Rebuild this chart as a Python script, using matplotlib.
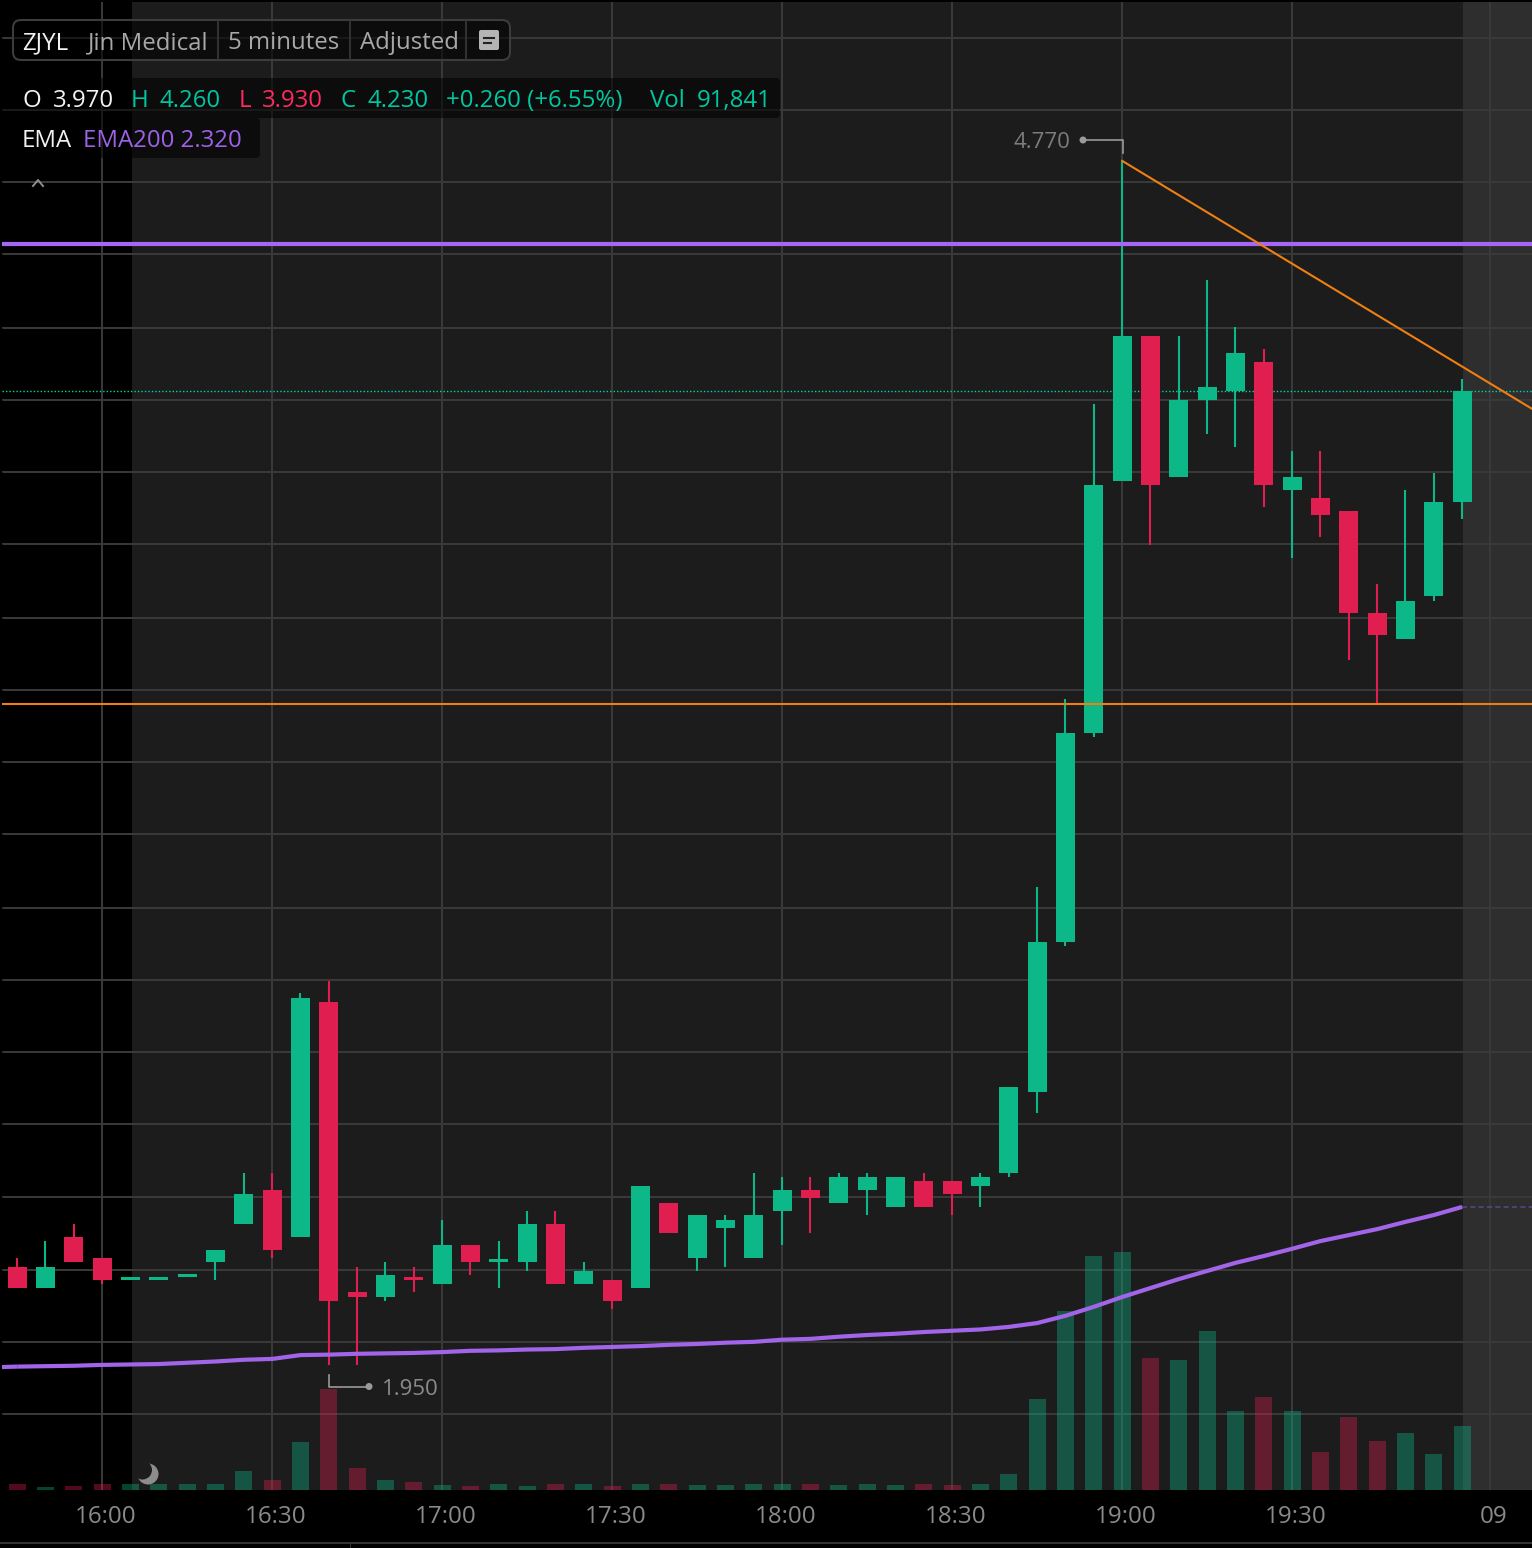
import matplotlib
matplotlib.use("Agg")
import matplotlib.pyplot as plt
from matplotlib.patches import FancyBboxPatch, Circle, Rectangle
from matplotlib.transforms import ScaledTranslation

plt.rcParams['font.family'] = ['Open Sans', 'DejaVu Sans']

# bar index 0 is the 16:00 bar, one bar is 5 minutes
bar_index = list(range(-3, 49))
opens = [2.18, 2.13, 2.25, 2.20, 2.15, 2.15, 2.155, 2.19, 2.28, 2.36, 2.25, 2.80, 2.12, 2.11, 2.15, 2.14, 2.23, 2.19,
         2.19, 2.28, 2.14, 2.15, 2.13, 2.33, 2.20, 2.27, 2.20, 2.31, 2.36, 2.33, 2.36, 2.32, 2.38, 2.38, 2.37, 2.40,
         2.59, 2.94, 3.43, 4.02, 4.36, 4.03, 4.21, 4.23, 4.30, 4.00, 3.98, 3.95, 3.71, 3.65, 3.75, 3.97]
highs = [2.20, 2.24, 2.28, 2.20, 2.15, 2.15, 2.155, 2.22, 2.40, 2.40, 2.82, 2.85, 2.18, 2.19, 2.18, 2.29, 2.23, 2.24,
         2.31, 2.31, 2.19, 2.15, 2.37, 2.33, 2.30, 2.30, 2.40, 2.39, 2.39, 2.40, 2.40, 2.39, 2.40, 2.38, 2.40, 2.60,
         3.07, 3.51, 4.20, 4.77, 4.36, 4.36, 4.49, 4.38, 4.33, 4.09, 4.09, 3.95, 3.78, 4.00, 4.04, 4.26]
lows = [2.13, 2.13, 2.19, 2.14, 2.15, 2.15, 2.155, 2.15, 2.28, 2.20, 2.25, 1.95, 1.95, 2.10, 2.12, 2.14, 2.16, 2.13,
        2.17, 2.14, 2.14, 2.08, 2.13, 2.26, 2.17, 2.18, 2.20, 2.23, 2.26, 2.33, 2.30, 2.32, 2.32, 2.30, 2.32, 2.39,
        2.54, 2.93, 3.42, 4.02, 3.87, 4.03, 4.13, 4.10, 3.96, 3.84, 3.89, 3.60, 3.50, 3.65, 3.74, 3.93]
closes = [2.13, 2.18, 2.19, 2.15, 2.15, 2.15, 2.155, 2.22, 2.35, 2.22, 2.81, 2.10, 2.11, 2.16, 2.15, 2.23, 2.19, 2.19,
          2.28, 2.14, 2.17, 2.10, 2.37, 2.26, 2.30, 2.29, 2.30, 2.36, 2.34, 2.39, 2.39, 2.39, 2.32, 2.35, 2.39, 2.60,
          2.94, 3.43, 4.01, 4.36, 4.01, 4.21, 4.24, 4.32, 4.01, 4.03, 3.94, 3.71, 3.66, 3.74, 3.97, 4.23]
volumes = [8600, 4300, 5700, 8600, 8600, 8600, 8600, 8600, 27300, 14400, 68900, 144900, 31600, 14400, 11500, 7200,
           5700, 8600, 5700, 8600, 8600, 5700, 8600, 8600, 7200, 7200, 8600, 8600, 8600, 7200, 8600, 7200, 8600,
           7200, 8600, 23000, 130600, 256900, 335800, 341500, 189400, 186600, 228200, 113400, 133500, 113400,
           54500, 104800, 70300, 81800, 51700, 91841]
ema = [1.946, 1.947, 1.948, 1.950, 1.951, 1.952, 1.955, 1.958, 1.962, 1.964, 1.973, 1.974, 1.976, 1.977, 1.978, 1.980,
       1.983, 1.984, 1.986, 1.987, 1.990, 1.992, 1.994, 1.997, 1.999, 2.002, 2.004, 2.009, 2.011, 2.016, 2.020, 2.023,
       2.027, 2.030, 2.033, 2.039, 2.048, 2.065, 2.086, 2.109, 2.130, 2.151, 2.170, 2.189, 2.205, 2.222, 2.240, 2.254,
       2.268, 2.285, 2.301, 2.320]

grid_prices = [5.058, 4.889, 4.720, 4.552, 4.379, 4.210, 4.041, 3.873, 3.699, 3.531, 3.362, 3.194, 3.020, 2.852,
               2.683, 2.514, 2.343, 2.172, 2.004, 1.835]
time_ticks = [0, 6, 12, 18, 24, 30, 36, 42, 49]
time_labels = ["16:00", "16:30", "17:00", "17:30", "18:00", "18:30", "19:00", "19:30", "09"]

resistance = 4.575
support = 3.498
last_close = 4.23
trend_x = [36, 50.47]
trend_y = [4.77, 4.189]

W, H = 1532, 1548
GREEN = "#0cb888"
RED = "#e01f50"
PURPLE = "#a566f5"
ORANGE = "#f07f13"
GRID = "#3a3a3a"
BAR_PX = 28.33
XLIM = (-3.535, 50.465)
YLIM = (1.657, 5.142)
VOL_TOP = 1488 * 1435

fig = plt.figure(figsize=(W / 100, H / 100), dpi=100, facecolor="black")
rect = [2 / W, 1 - 1490 / H, 1530 / W, 1488 / H]

# back: sessions, grid and time labels
ax = fig.add_axes(rect, facecolor="black")
ax.set_xlim(*XLIM)
ax.set_ylim(*YLIM)
ax.axvspan(1.06, 48.04, color="#1c1c1c", lw=0, zorder=0)
ax.axvspan(48.04, XLIM[1], color="#2e2e2e", lw=0, zorder=0)
ax.set_yticks(grid_prices)
ax.set_xticks(time_ticks, time_labels)
ax.grid(True, color=GRID, lw=1.4, zorder=1)
ax.set_axisbelow(True)
ax.tick_params(axis="y", left=False, labelleft=False)
ax.tick_params(axis="x", length=0, pad=10.5, labelsize=17.4, labelcolor="#8a8a8a")
for lab in ax.get_xticklabels():
    lab.set_transform(lab.get_transform() + ScaledTranslation(3.5 / 100, 0, fig.dpi_scale_trans))
for s in ax.spines.values():
    s.set_visible(False)

# volume
ax_vol = ax.twinx()
ax_vol.set_ylim(0, VOL_TOP)
ax_vol.axis("off")
vol_colors = [GREEN if c > o or (c == o and i != 11) else RED
              for i, o, c in zip(bar_index, opens, closes)]
ax_vol.bar(bar_index, volumes, width=17 / BAR_PX, color=vol_colors, alpha=0.37, lw=0)

# candles and lines
ax_c = ax.twinx()
ax_c.set_ylim(*YLIM)
ax_c.axis("off")
min_body = 0.007
for i, o, h, l, c, col in zip(bar_index, opens, highs, lows, closes, vol_colors):
    ax_c.vlines(i, l, h, color=col, lw=1.5, zorder=2)
    ax_c.bar(i, max(abs(c - o), min_body), bottom=min(o, c), width=19 / BAR_PX, color=col, lw=0, zorder=3)

ax_c.axhline(last_close, color="#00d8a8", lw=1, ls=(0, (1, 1.5)), zorder=2)
ax_c.plot(bar_index, ema, color="#a264e8", lw=3, zorder=5, solid_capstyle="butt")
ax_c.plot([XLIM[0], -3], [1.945, ema[0]], color="#a264e8", lw=3, zorder=5, solid_capstyle="butt")
ax_c.plot([48, XLIM[1]], [ema[-1], ema[-1]], color="#5a4480", lw=1.2, ls=(0, (3, 2)), zorder=4)
ax_c.axhline(resistance, color=PURPLE, lw=3, zorder=6)
ax_c.axhline(support, color=ORANGE, lw=1.5, zorder=6)
ax_c.plot(trend_x, trend_y, color=ORANGE, lw=1.5, zorder=7)

# overlay in pixels for the legend boxes and labels
ov = fig.add_axes([0, 0, 1, 1], facecolor="none", zorder=10)
ov.set_xlim(0, W)
ov.set_ylim(H, 0)
ov.axis("off")
ov.add_patch(Rectangle((0, 1542), W, 2, color="#333333", lw=0))
ov.add_patch(Rectangle((349.5, 1542), 1.5, 6, color="#333333", lw=0))


def box(x0, y0, x1, y1, face, edge="none", pad=4):
    ov.add_patch(FancyBboxPatch((x0 + pad, y0 + pad), x1 - x0 - 2 * pad, y1 - y0 - 2 * pad,
                                boxstyle="round,pad=%d" % pad, fc=face, ec=edge, lw=1.5))


def label(x, y, s, color, size=17.3, **kw):
    ov.text(x, y, s, color=color, fontsize=size, va="baseline", **kw)


SHADE = (0, 0, 0, 0.55)
box(13, 20, 510, 60, SHADE, "#3c3c3c", pad=8)
for x in [218, 350, 466]:
    ov.plot([x, x], [21, 59], color="#333333", lw=1.4)
box(479, 30, 499, 50, "#b4b4b4", pad=2)
ov.plot([484, 494], [37.5, 37.5], color="#222222", lw=1.5)
ov.plot([484, 491], [43, 43], color="#222222", lw=1.5)
label(22, 49, "ZJYL", "#f2f2f2")
label(88, 49, "Jin Medical", "#a8a8a8")
label(228, 49, "5 minutes", "#a8a8a8")
label(360, 49, "Adjusted", "#a8a8a8")

box(0, 78, 780, 118, SHADE, pad=4)
box(0, 118, 260, 158, SHADE, pad=4)
TEAL = "#00c7a0"
PINK = "#ff2a5f"
for x, s, col in [(22, "O", "#f2f2f2"), (53, "3.970", "#f2f2f2"), (131, "H", TEAL), (160, "4.260", TEAL),
                  (239, "L", PINK), (262, "3.930", PINK), (340, "C", TEAL), (367, "4.230", TEAL),
                  (446, "+0.260 (+6.55%)", TEAL), (650, "Vol", TEAL), (697, "91,841", TEAL)]:
    label(x, 107, s, col)
label(22, 147, "EMA", "#f2f2f2")
label(83, 147, "EMA200 2.320", "#9d62e6")
ov.plot([33, 38, 43], [186, 180, 186], color="#909090", lw=1.4)

# high and low flags
flag = "#9a9a9a"
ov.plot([1083, 1123, 1123], [140, 140, 153], color=flag, lw=1.2)
ov.add_patch(Circle((1083, 140), 3.5, color=flag, lw=0))
label(1070, 148, "4.770", "#7c7c7c", size=16, ha="right")
ov.plot([329, 329, 369], [1375, 1386.5, 1386.5], color=flag, lw=1.2)
ov.add_patch(Circle((369, 1386.5), 3.5, color=flag, lw=0))
label(382, 1395, "1.950", "#8a8a8a", size=16)

# moon
ov.add_patch(Circle((148, 1474), 10.5, color="#8c8c8c", lw=0))
ov.add_patch(Circle((142.5, 1470), 9.5, color="#1c1c1c", lw=0))

fig.savefig("out.png", dpi=100, facecolor="black")
